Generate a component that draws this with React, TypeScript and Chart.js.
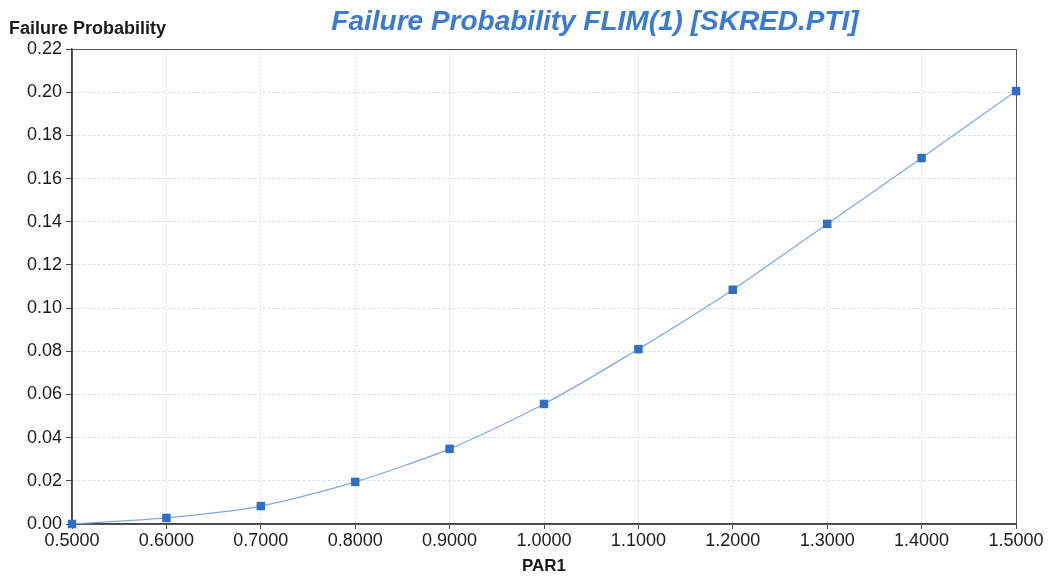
import React, { useEffect, useRef } from "react";
import { Chart, registerables } from "chart.js";

Chart.register(...registerables);

const parValues = [0.5, 0.6, 0.7, 0.8, 0.9, 1.0, 1.1, 1.2, 1.3, 1.4, 1.5];
const failureProb = [0.0, 0.0028, 0.0083, 0.0195, 0.0348, 0.0556, 0.081, 0.1085, 0.139, 0.1695, 0.2005];

const chartTitle = "Failure Probability FLIM(1) [SKRED.PTI]";
const yAxisTitle = "Failure Probability";
const xAxisTitle = "PAR1";

const FONT = "'Liberation Sans', Arial, Helvetica, sans-serif";

// Draws the title, axis captions and the frame around the plot area.
const decorations = {
  id: "decorations",
  beforeDatasetsDraw(chart: Chart) {
    const { ctx, chartArea } = chart;
    ctx.save();
    ctx.strokeStyle = "#555555";
    ctx.lineWidth = 1;
    ctx.strokeRect(chartArea.left + 0.5, chartArea.top + 0.5, chartArea.right - chartArea.left, chartArea.bottom - chartArea.top);
    ctx.restore();
  },
  afterDraw(chart: Chart) {
    const { ctx, chartArea } = chart;
    ctx.save();
    ctx.fillStyle = "#3a7ad0";
    ctx.font = `italic bold 28px ${FONT}`;
    ctx.textAlign = "center";
    ctx.textBaseline = "alphabetic";
    ctx.fillText(chartTitle, 595, 30);

    ctx.fillStyle = "#1a1a1a";
    ctx.font = `bold 18px ${FONT}`;
    ctx.textAlign = "left";
    ctx.fillText(yAxisTitle, 9, 34);

    ctx.font = `bold 17px ${FONT}`;
    ctx.textAlign = "center";
    ctx.fillText(xAxisTitle, (chartArea.left + chartArea.right) / 2, 571);
    ctx.restore();
  },
};

export default function App() {
  const canvasRef = useRef<HTMLCanvasElement | null>(null);

  useEffect(() => {
    const canvas = canvasRef.current;
    if (!canvas) return;
    const chart = new Chart(canvas, {
      type: "line",
      data: {
        datasets: [
          {
            data: parValues.map((x, i) => ({ x, y: failureProb[i] })),
            borderColor: "#7da8e6",
            borderWidth: 1.2,
            backgroundColor: "#2f6fc4",
            pointBackgroundColor: "#2f6fc4",
            pointBorderWidth: 0,
            pointStyle: "rect",
            pointRadius: 6,
            tension: 0.25,
            fill: false,
            clip: false,
          },
        ],
      },
      options: {
        animation: false,
        responsive: false,
        maintainAspectRatio: false,
        layout: { padding: { top: 49, right: 44, left: 0, bottom: 0 } },
        plugins: {
          legend: { display: false },
          title: { display: false },
          tooltip: { enabled: false },
        },
        scales: {
          x: {
            type: "linear",
            min: 0.5,
            max: 1.5,
            afterFit: (scale: any) => {
              scale.height = 55;
            },
            ticks: {
              stepSize: 0.1,
              color: "#1a1a1a",
              font: { family: FONT, size: 18 },
              padding: 1,
              maxRotation: 0,
              callback: (v: any) => Number(v).toFixed(4),
            },
            grid: {
              color: "#dcdfe4",
              tickColor: "#444444",
              tickLength: 5,
              lineWidth: 1,
            },
            border: { color: "#444444", width: 1.5, dash: [2, 2] },
          },
          y: {
            min: 0,
            max: 0.22,
            afterFit: (scale: any) => {
              scale.width = 72;
            },
            ticks: {
              stepSize: 0.02,
              color: "#1a1a1a",
              font: { family: FONT, size: 18 },
              padding: 4,
              callback: (v: any) => Number(v).toFixed(2),
            },
            grid: {
              color: "#d3e0f4",
              tickColor: "#444444",
              tickLength: 6,
              lineWidth: 1,
            },
            border: { color: "#444444", width: 1.5, dash: [3, 2] },
          },
        },
      },
      plugins: [decorations],
    });
    return () => chart.destroy();
  }, []);

  return (
    <div style={{ position: "fixed", left: 0, top: 0, width: 1060, height: 579, background: "#ffffff" }}>
      <canvas ref={canvasRef} width={1060} height={579} style={{ display: "block" }} />
    </div>
  );
}
